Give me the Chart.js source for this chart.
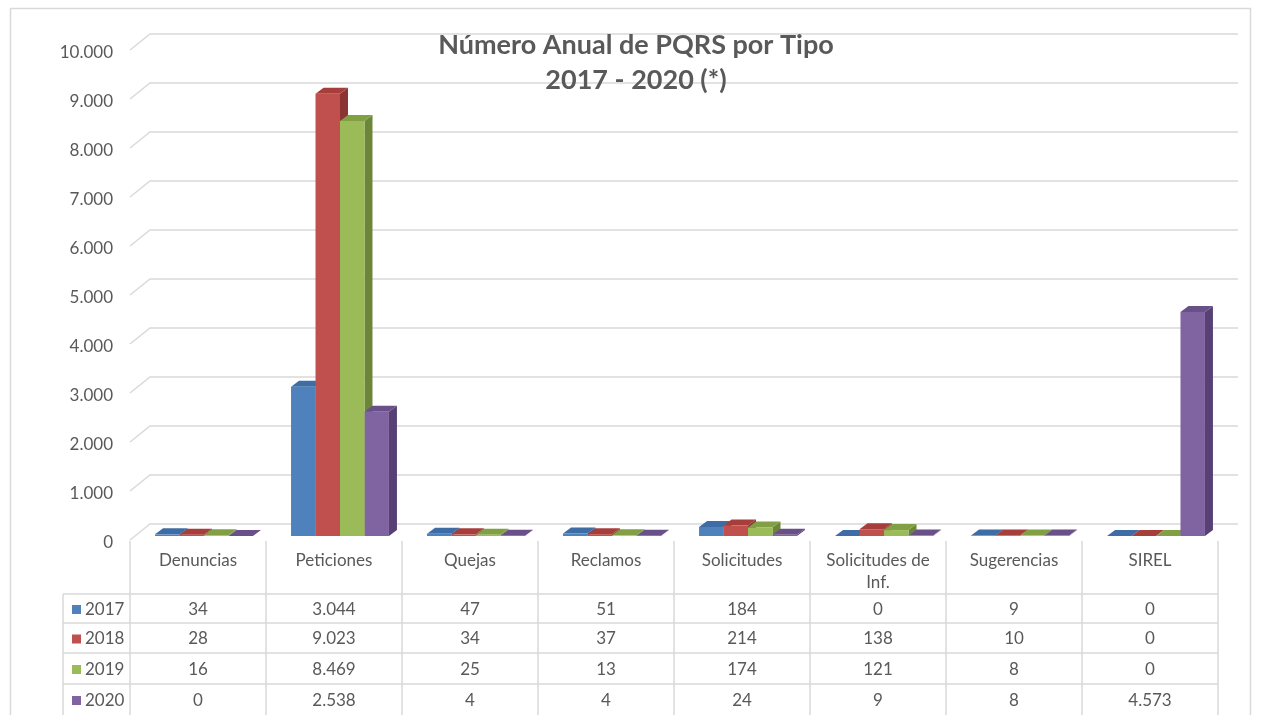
<!DOCTYPE html>
<html>
<head>
<meta charset="utf-8">
<title>Número Anual de PQRS por Tipo</title>
<script src="https://cdn.jsdelivr.net/npm/chart.js@4.4.1/dist/chart.umd.min.js"></script>
<style>
  html, body { margin: 0; padding: 0; background: #fff; }
  canvas { display: block; }
</style>
</head>
<body>
<canvas id="pqrsChart" width="1263" height="715"></canvas>
<script>
// Datos del gráfico
const categories = ['Denuncias', 'Peticiones', 'Quejas', 'Reclamos', 'Solicitudes', 'Solicitudes de Inf.', 'Sugerencias', 'SIREL'];
const years = ['2017', '2018', '2019', '2020'];
const values2017 = [34, 3044, 47, 51, 184, 0, 9, 0];
const values2018 = [28, 9023, 34, 37, 214, 138, 10, 0];
const values2019 = [16, 8469, 25, 13, 174, 121, 8, 0];
const values2020 = [0, 2538, 4, 4, 24, 9, 8, 4573];
const yTicks = [0, 1000, 2000, 3000, 4000, 5000, 6000, 7000, 8000, 9000, 10000];
const titleLines = ['Número Anual de PQRS por Tipo', '2017 - 2020 (*)'];

const seriesValues = [values2017, values2018, values2019, values2020];
const frontColors = ['#4F81BD', '#C0504D', '#9BBB59', '#8064A2'];
const topColors = ['#3E6CA5', '#A63F3C', '#81A044', '#6A5089'];
const sideColors = ['#345A87', '#8A3533', '#6B8639', '#574174'];

const FONT = 'Lato, "Open Sans", sans-serif';
const GRID = '#D9D9D9';
const TEXT = '#595959';
const DX = 8, DY = -6;          // profundidad de las barras
const WALL_DX = 20, WALL_DY = -16; // pared del fondo

const fmt = v => String(v).replace(/\B(?=(\d{3})+(?!\d))/g, '.');

// pared del fondo y caras laterales / superiores de las barras
const wallPlugin = {
  id: 'wall',
  beforeDatasetsDraw(chart) {
    const { ctx, chartArea, scales } = chart;
    const y = scales.y;
    ctx.save();
    ctx.strokeStyle = GRID;
    ctx.lineWidth = 1.5;
    yTicks.forEach(t => {
      const py = y.getPixelForValue(t);
      ctx.beginPath();
      ctx.moveTo(chartArea.left, py);
      ctx.lineTo(chartArea.left + WALL_DX, py + WALL_DY);
      ctx.lineTo(chartArea.right + WALL_DX, py + WALL_DY);
      ctx.stroke();
    });
    ctx.restore();

    // barras un poco hacia el fondo
    ctx.save();
    ctx.translate(6, -4);
    years.forEach((yr, i) => {
      chart.getDatasetMeta(i).data.forEach(bar => {
        const p = bar.getProps(['x', 'y', 'base', 'width'], true);
        const l = p.x - p.width / 2, r = p.x + p.width / 2;
        const top = Math.min(p.y, p.base);
        ctx.fillStyle = sideColors[i];
        ctx.beginPath();
        ctx.moveTo(r, top);
        ctx.lineTo(r + DX, top + DY);
        ctx.lineTo(r + DX, p.base + DY);
        ctx.lineTo(r, p.base);
        ctx.closePath();
        ctx.fill();
        ctx.fillStyle = topColors[i];
        ctx.beginPath();
        ctx.moveTo(l, top);
        ctx.lineTo(l + DX, top + DY);
        ctx.lineTo(r + DX, top + DY);
        ctx.lineTo(r, top);
        ctx.closePath();
        ctx.fill();
      });
    });
  },
  afterDatasetsDraw(chart) {
    chart.ctx.restore();
  }
};

// título, tabla de datos y borde
const tablePlugin = {
  id: 'dataTable',
  afterDraw(chart) {
    const { ctx, chartArea, scales } = chart;
    const x = scales.x;
    const colW = (chartArea.right - chartArea.left) / categories.length;
    const headTop = chartArea.bottom + 1;
    const rowTops = [594, 623, 653, 684, 715];
    const legendLeft = 63;

    ctx.save();
    // borde exterior
    ctx.strokeStyle = GRID;
    ctx.lineWidth = 1.5;
    ctx.strokeRect(10.5, 8.5, 1240, 720);

    // título
    ctx.fillStyle = TEXT;
    ctx.textAlign = 'center';
    ctx.textBaseline = 'middle';
    ctx.font = 'bold 27px ' + FONT;
    ctx.fillText(titleLines[0], 636, 45);
    ctx.fillText(titleLines[1], 636, 80);

    // líneas de la tabla
    ctx.strokeStyle = GRID;
    ctx.lineWidth = 1.5;
    for (let c = 0; c <= categories.length; c++) {
      const px = chartArea.left + c * colW;
      ctx.beginPath();
      ctx.moveTo(px, headTop);
      ctx.lineTo(px, 715);
      ctx.stroke();
    }
    ctx.beginPath();
    ctx.moveTo(legendLeft, rowTops[0]);
    ctx.lineTo(legendLeft, 715);
    ctx.stroke();
    rowTops.slice(0, 4).forEach(ry => {
      ctx.beginPath();
      ctx.moveTo(legendLeft, ry);
      ctx.lineTo(chartArea.right, ry);
      ctx.stroke();
    });

    // encabezados
    ctx.font = '17px ' + FONT;
    ctx.fillStyle = TEXT;
    categories.forEach((cat, c) => {
      const cx = x.getPixelForValue(c);
      if (cat === 'Solicitudes de Inf.') {
        ctx.fillText('Solicitudes de', cx, 561);
        ctx.fillText('Inf.', cx, 583);
      } else {
        ctx.fillText(cat, cx, 561);
      }
    });

    // filas
    years.forEach((yr, r) => {
      const cy = (rowTops[r] + rowTops[r + 1]) / 2 + 1;
      ctx.fillStyle = frontColors[r];
      ctx.fillRect(72, cy - 4.5, 9, 9);
      ctx.fillStyle = TEXT;
      ctx.textAlign = 'left';
      ctx.fillText(yr, 85, cy);
      ctx.textAlign = 'center';
      seriesValues[r].forEach((v, c) => {
        ctx.fillText(fmt(v), x.getPixelForValue(c), cy);
      });
    });
    ctx.restore();
  }
};

const ctx = document.getElementById('pqrsChart').getContext('2d');
const pqrsChart = new Chart(ctx, {
  type: 'bar',
  data: {
    labels: categories,
    datasets: years.map((yr, i) => ({
      label: yr,
      data: seriesValues[i],
      backgroundColor: frontColors[i],
      borderWidth: 0,
      categoryPercentage: 0.72,
      barPercentage: 1.0
    }))
  },
  options: {
    responsive: false,
    animation: false,
    layout: { padding: { left: 0, right: 45, top: 50, bottom: 175 } },
    plugins: {
      legend: { display: false },
      title: { display: false },
      tooltip: { enabled: false }
    },
    scales: {
      x: { display: false },
      y: {
        min: 0,
        max: 10000,
        afterFit(scale) { scale.width = 130; },
        afterBuildTicks(scale) { scale.ticks = yTicks.map(v => ({ value: v })); },
        grid: { display: false, drawTicks: false },
        border: { display: false },
        ticks: {
          padding: 17,
          labelOffset: 3,
          color: TEXT,
          font: { family: FONT, size: 17 },
          callback: v => fmt(v)
        }
      }
    }
  },
  plugins: [wallPlugin, tablePlugin]
});
</script>
</body>
</html>
